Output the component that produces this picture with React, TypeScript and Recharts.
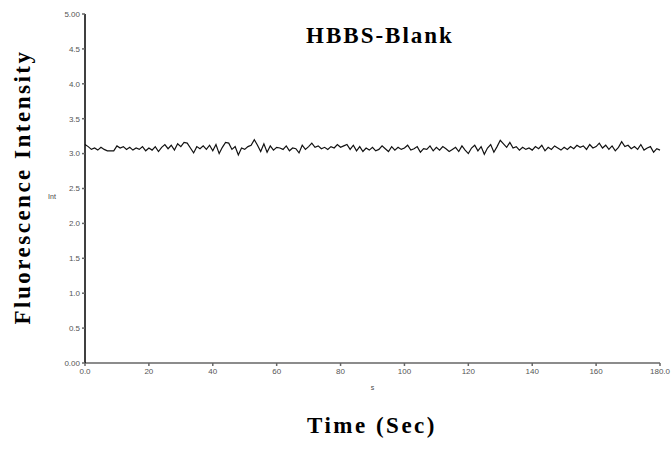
import { LineChart, Line, XAxis, YAxis } from "recharts";

// Fluorescence intensity sampled once per second, 0..180 s
const intensity = [
  3.13, 3.10, 3.06, 3.08, 3.05, 3.09, 3.06, 3.04, 3.04, 3.04,
  3.11, 3.08, 3.10, 3.06, 3.09, 3.05, 3.08, 3.06, 3.10, 3.04,
  3.08, 3.05, 3.10, 3.03, 3.09, 3.13, 3.07, 3.12, 3.05, 3.14,
  3.10, 3.16, 3.15, 3.08, 3.01, 3.10, 3.07, 3.11, 3.06, 3.12,
  3.04, 3.13, 3.00, 3.09, 3.16, 3.15, 3.06, 3.10, 2.98, 3.08,
  3.06, 3.10, 3.12, 3.20, 3.12, 3.03, 3.14, 3.02, 3.11, 3.05,
  3.09, 3.08, 3.06, 3.11, 3.04, 3.08, 3.07, 3.01, 3.12, 3.06,
  3.10, 3.15, 3.09, 3.11, 3.07, 3.09, 3.06, 3.10, 3.08, 3.13,
  3.09, 3.11, 3.13, 3.06, 3.12, 3.04, 3.10, 3.03, 3.08, 3.05,
  3.09, 3.04, 3.06, 3.11, 3.07, 3.03, 3.10, 3.05, 3.09, 3.06,
  3.08, 3.12, 3.05, 3.07, 3.10, 3.02, 3.07, 3.06, 3.11, 3.04,
  3.09, 3.05, 3.10, 3.07, 3.03, 3.06, 3.09, 3.03, 3.11, 3.05,
  3.00, 3.08, 3.12, 3.04, 3.10, 2.99, 3.08, 3.13, 3.02, 3.10,
  3.19, 3.14, 3.09, 3.16, 3.08, 3.10, 3.05, 3.09, 3.06, 3.08,
  3.05, 3.10, 3.07, 3.12, 3.04, 3.09, 3.06, 3.11, 3.08, 3.05,
  3.09, 3.06, 3.10, 3.07, 3.12, 3.09, 3.11, 3.06, 3.13, 3.08,
  3.10, 3.15, 3.08, 3.12, 3.06, 3.11, 3.04, 3.09, 3.17, 3.10,
  3.12, 3.07, 3.10, 3.06, 3.13, 3.05, 3.08, 3.10, 3.02, 3.07,
  3.05,
];
const sampleStep = 1; // seconds

const xTicks = [0, 20, 40, 60, 80, 100, 120, 140, 160, 180];
const yTicks = [0, 0.5, 1, 1.5, 2, 2.5, 3, 3.5, 4, 4.5, 5];

const data = intensity.map((v, i) => ({ t: i * sampleStep, int: v }));

const tickStyle = { fontFamily: "Liberation Sans, Arial", fontSize: 8, fill: "#555" };
const serif = "Liberation Serif, Times New Roman, serif";

const fmtY = (v: number) => (v === 0 || v === 5 ? v.toFixed(2) : v.toFixed(1));
const fmtX = (v: number) => (v === 0 || v === 180 ? v.toFixed(1) : String(v));

// small unit labels drawn from the axis viewBox
const unitLabel = (text: string, side: "left" | "bottom") => (props: any) => {
  const vb = props.viewBox || {};
  const x = side === "left" ? vb.x + 7 : vb.x + vb.width / 2;
  const y = side === "left" ? vb.y + vb.height / 2 + 10 : vb.y + vb.height - 3;
  return (
    <text x={x} y={y} textAnchor="middle" fill="#444" fontSize={7} fontFamily="Liberation Sans, Arial">
      {text}
    </text>
  );
};

export default function App() {
  return (
    <div style={{ position: "absolute", left: 0, top: 0, width: 671, height: 464, background: "#fff" }}>
      <LineChart
        width={671}
        height={464}
        data={data}
        margin={{ top: 14, right: 11, left: 45, bottom: 71 }}
      >
        <XAxis
          dataKey="t"
          type="number"
          domain={[0, 180]}
          ticks={xTicks}
          tickFormatter={fmtX}
          interval={0}
          height={30}
          tick={tickStyle}
          tickSize={3}
          stroke="#666"
          strokeWidth={1.5}
          tickLine={{ stroke: "#666" }}
          label={{ content: unitLabel("s", "bottom") }}
        />
        <YAxis
          type="number"
          domain={[0, 5]}
          ticks={yTicks}
          tickFormatter={fmtY}
          interval={0}
          width={40}
          tick={tickStyle}
          tickSize={3}
          stroke="#000"
          strokeWidth={1.5}
          tickLine={{ stroke: "#666" }}
          label={{ content: unitLabel("Int", "left") }}
        />
        <Line
          dataKey="int"
          type="linear"
          stroke="#111"
          strokeWidth={1.2}
          dot={false}
          isAnimationActive={false}
        />
      </LineChart>
      <svg
        width={671}
        height={464}
        style={{ position: "absolute", left: 0, top: 0, pointerEvents: "none" }}
      >
        <text x={380} y={43} textAnchor="middle" fontFamily={serif} fontWeight="bold" fontSize={23} letterSpacing={2}>
          HBBS-Blank
        </text>
        <text
          x={30}
          y={187}
          textAnchor="middle"
          fontFamily={serif}
          fontWeight="bold"
          fontSize={23}
          letterSpacing={2.5}
          transform="rotate(-90 30 187)"
        >
          Fluorescence Intensity
        </text>
        <text x={372} y={433} textAnchor="middle" fontFamily={serif} fontWeight="bold" fontSize={23} letterSpacing={2.5}>
          Time (Sec)
        </text>
      </svg>
    </div>
  );
}
